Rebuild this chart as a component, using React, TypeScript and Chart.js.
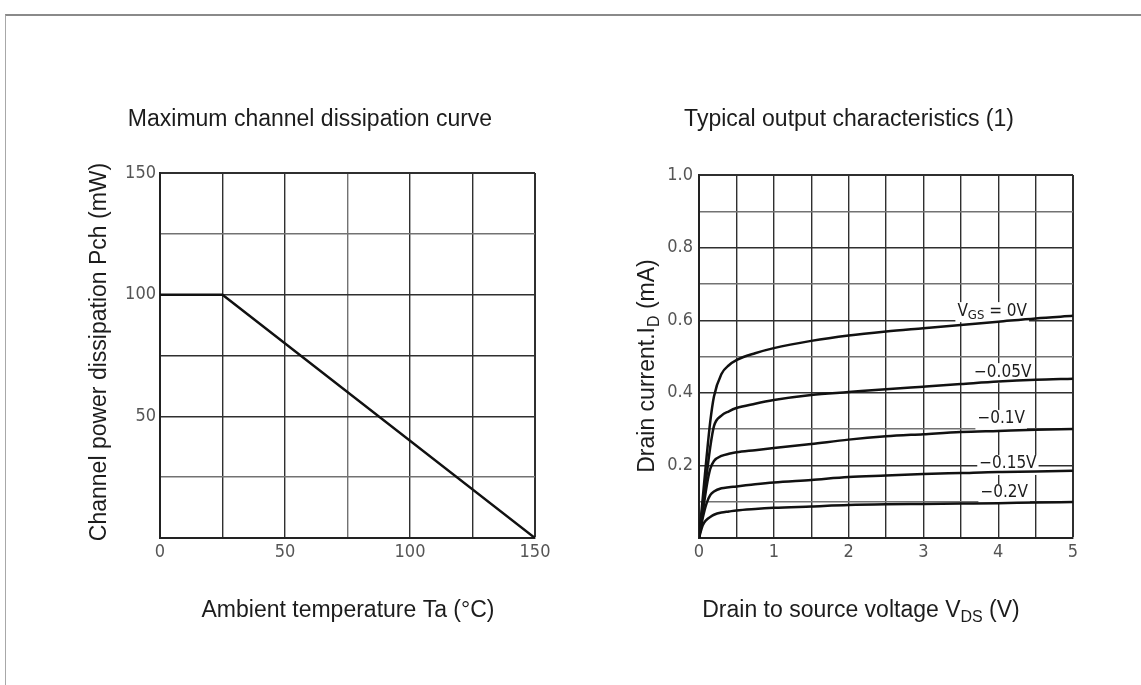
import React, { useEffect, useRef } from "react";
import { Chart, registerables } from "chart.js";

Chart.register(...registerables);

// ---- Maximum channel dissipation curve ----
const ambientTempC = [0, 25, 150];
const maxDissipationMw = [100, 100, 0];
const tempTickLabels = [0, 50, 100, 150];
const pchTickLabels = [50, 100, 150];

// ---- Typical output characteristics (1) ----
const drainVoltageV = [0, 0.05, 0.1, 0.15, 0.2, 0.3, 0.4, 0.5, 0.75, 1, 1.5, 2, 2.5, 3, 3.5, 4, 4.5, 5];
const idVgs0 = [0, 0.11, 0.22, 0.32, 0.39, 0.452, 0.476, 0.49, 0.509, 0.523, 0.543, 0.558, 0.569, 0.578, 0.587, 0.596, 0.605, 0.612];
const idVgsM005 = [0, 0.09, 0.17, 0.25, 0.308, 0.337, 0.349, 0.358, 0.37, 0.38, 0.394, 0.402, 0.41, 0.417, 0.424, 0.431, 0.436, 0.439];
const idVgsM01 = [0, 0.07, 0.14, 0.19, 0.212, 0.226, 0.232, 0.236, 0.242, 0.248, 0.259, 0.271, 0.28, 0.286, 0.292, 0.295, 0.298, 0.3];
const idVgsM015 = [0, 0.055, 0.095, 0.118, 0.128, 0.137, 0.14, 0.142, 0.148, 0.153, 0.16, 0.168, 0.172, 0.176, 0.179, 0.182, 0.183, 0.185];
const idVgsM02 = [0, 0.035, 0.05, 0.058, 0.064, 0.07, 0.073, 0.076, 0.08, 0.083, 0.087, 0.091, 0.093, 0.094, 0.095, 0.096, 0.098, 0.099];
const gateVoltageLabels = ["0V", "\u22120.05V", "\u22120.1V", "\u22120.15V", "\u22120.2V"];
const vdsTickLabels = [0, 1, 2, 3, 4, 5];
const idTickLabels = [0.2, 0.4, 0.6, 0.8, 1.0];

// where each gate-voltage caption sits, in data units (V, mA)
const gateLabelAnchors = [
  { x: 3.92, y: 0.625 },
  { x: 4.06, y: 0.457 },
  { x: 4.04, y: 0.328 },
  { x: 4.13, y: 0.204 },
  { x: 4.08, y: 0.124 },
];

const TITLE_FONT = "23px 'Liberation Sans', Arial, Helvetica, sans-serif";
const SUB_FONT = "16px 'Liberation Sans', Arial, Helvetica, sans-serif";
const TICK_FAMILY = "'Liberation Sans Narrow', 'DejaVu Sans Condensed', 'Liberation Sans', sans-serif";
const INK = "#1c1c1c";

type Seg = { t: string; sub?: boolean };

function drawRich(
  ctx: CanvasRenderingContext2D,
  segs: Seg[],
  cx: number,
  cy: number,
  rot: number,
  font: string,
  subFont: string,
  subShift: number,
  background?: boolean
) {
  ctx.save();
  ctx.translate(cx, cy);
  ctx.rotate(rot);
  ctx.textBaseline = "middle";
  ctx.textAlign = "left";
  const widths = segs.map((s) => {
    ctx.font = s.sub ? subFont : font;
    return ctx.measureText(s.t).width;
  });
  const total = widths.reduce((a, b) => a + b, 0);
  let x = -total / 2;
  if (background) {
    ctx.fillStyle = "#ffffff";
    ctx.fillRect(x - 2, -9, total + 4, 20);
  }
  ctx.fillStyle = INK;
  segs.forEach((s, i) => {
    ctx.font = s.sub ? subFont : font;
    ctx.fillText(s.t, x, s.sub ? subShift : 0);
    x += widths[i];
  });
  ctx.restore();
}

function nearIn(list: number[], v: number) {
  return list.some((l) => Math.abs(l - v) < 1e-6);
}

function gridStyle(major: (v: number) => boolean, maxV: number) {
  return {
    color: (c: any) => (major(c.tick.value) ? "#2f2f2f" : "#727272"),
    lineWidth: (c: any) => (Math.abs(c.tick.value - maxV) < 1e-6 ? 2 : 1.4),
    drawTicks: false,
  };
}

type TextSpec = {
  title: string;
  titleX: number;
  yTitle: Seg[];
  yTitleX: number;
  yTitleY: number;
  xTitle: Seg[];
  xTitleX: number;
};

function textPlugin(spec: TextSpec) {
  return {
    id: "panelText",
    afterDraw(chart: any) {
      const ctx = chart.ctx as CanvasRenderingContext2D;
      drawRich(ctx, [{ t: spec.title }], spec.titleX, 120, 0, TITLE_FONT, SUB_FONT, 7);
      drawRich(ctx, spec.yTitle, spec.yTitleX, spec.yTitleY, -Math.PI / 2, TITLE_FONT, SUB_FONT, 7);
      drawRich(ctx, spec.xTitle, spec.xTitleX, 611, 0, TITLE_FONT, SUB_FONT, 7);
    },
  };
}

const gateLabelPlugin = {
  id: "gateLabels",
  beforeDatasetsDraw(chart: any) {
    const ctx = chart.ctx as CanvasRenderingContext2D;
    const xs = chart.scales.x;
    const ys = chart.scales.y;
    const font = `17px ${TICK_FAMILY}`;
    const subFont = `13px ${TICK_FAMILY}`;
    gateVoltageLabels.forEach((lab, i) => {
      const a = gateLabelAnchors[i];
      const segs: Seg[] =
        i === 0 ? [{ t: "V" }, { t: "GS", sub: true }, { t: " = " + lab }] : [{ t: lab }];
      drawRich(ctx, segs, xs.getPixelForValue(a.x), ys.getPixelForValue(a.y), 0, font, subFont, 4, true);
    });
  },
};

function baseOptions(padTop: number, padRight: number) {
  return {
    responsive: false,
    animation: false as const,
    devicePixelRatio: 1,
    layout: { padding: { top: padTop, right: padRight, left: 0, bottom: 0 } },
    plugins: { legend: { display: false }, tooltip: { enabled: false }, title: { display: false } },
    elements: { point: { radius: 0 } },
  };
}

const tickFont = { family: TICK_FAMILY, size: 18 };

function DissipationChart() {
  const ref = useRef<HTMLCanvasElement | null>(null);
  useEffect(() => {
    if (!ref.current) return;
    const opts: any = baseOptions(173, 35);
    const chart = new Chart(ref.current, {
      type: "line",
      data: {
        datasets: [
          {
            data: ambientTempC.map((t, i) => ({ x: t, y: maxDissipationMw[i] })),
            borderColor: "#111",
            borderWidth: 2.5,
            tension: 0,
            pointRadius: 0,
          },
        ],
      },
      options: {
        ...opts,
        scales: {
          x: {
            type: "linear",
            min: 0,
            max: 150,
            afterFit: (s: any) => {
              s.height = 147;
            },
            grid: gridStyle((v) => v !== 75, 150),
            border: { display: true, color: "#222", width: 2 },
            ticks: {
              stepSize: 25,
              autoSkip: false,
              maxRotation: 0,
              padding: 4,
              color: "#555",
              font: tickFont,
              callback: (v: any) => (nearIn(tempTickLabels, Number(v)) ? String(v) : ""),
            },
          },
          y: {
            type: "linear",
            min: 0,
            max: 150,
            afterFit: (s: any) => {
              s.width = 160;
            },
            grid: gridStyle((v) => v !== 25 && v !== 125, 150),
            border: { display: true, color: "#222", width: 2 },
            ticks: {
              stepSize: 25,
              autoSkip: false,
              padding: 4,
              color: "#555",
              font: tickFont,
              callback: (v: any) => (nearIn(pchTickLabels, Number(v)) ? String(v) : ""),
            },
          },
        },
      },
      plugins: [
        textPlugin({
          title: "Maximum channel dissipation curve",
          titleX: 310,
          yTitle: [{ t: "Channel power dissipation Pch (mW)" }],
          yTitleX: 100,
          yTitleY: 352,
          xTitle: [{ t: "Ambient temperature Ta (\u00b0C)" }],
          xTitleX: 348,
        }),
      ],
    });
    return () => chart.destroy();
  }, []);
  return (
    <canvas
      ref={ref}
      width={570}
      height={685}
      style={{ position: "absolute", left: 0, top: 0, width: 570, height: 685 }}
    />
  );
}

function OutputChart() {
  const ref = useRef<HTMLCanvasElement | null>(null);
  useEffect(() => {
    if (!ref.current) return;
    const opts: any = baseOptions(175, 68);
    const series = [idVgs0, idVgsM005, idVgsM01, idVgsM015, idVgsM02];
    const chart = new Chart(ref.current, {
      type: "line",
      data: {
        datasets: series.map((s) => ({
          data: drainVoltageV.map((v, i) => ({ x: v, y: s[i] })),
          borderColor: "#111",
          borderWidth: 2.5,
          cubicInterpolationMode: "monotone" as const,
          pointRadius: 0,
        })),
      },
      options: {
        ...opts,
        scales: {
          x: {
            type: "linear",
            min: 0,
            max: 5,
            afterFit: (s: any) => {
              s.height = 147;
            },
            grid: gridStyle(() => true, 5),
            border: { display: true, color: "#222", width: 2 },
            ticks: {
              stepSize: 0.5,
              autoSkip: false,
              maxRotation: 0,
              padding: 4,
              color: "#555",
              font: tickFont,
              callback: (v: any) => (nearIn(vdsTickLabels, Number(v)) ? String(Math.round(Number(v))) : ""),
            },
          },
          y: {
            type: "linear",
            min: 0,
            max: 1,
            afterFit: (s: any) => {
              s.width = 129;
            },
            grid: gridStyle((v) => Math.round(v * 10) % 2 === 0, 1),
            border: { display: true, color: "#222", width: 2 },
            ticks: {
              stepSize: 0.1,
              autoSkip: false,
              padding: 6,
              color: "#555",
              font: tickFont,
              callback: (v: any) => (nearIn(idTickLabels, Number(v)) ? Number(v).toFixed(1) : ""),
            },
          },
        },
      },
      plugins: [
        gateLabelPlugin,
        textPlugin({
          title: "Typical output characteristics (1)",
          titleX: 279,
          yTitle: [{ t: "Drain current.I" }, { t: "D", sub: true }, { t: " (mA)" }],
          yTitleX: 78,
          yTitleY: 366,
          xTitle: [{ t: "Drain to source voltage V" }, { t: "DS", sub: true }, { t: " (V)" }],
          xTitleX: 291,
        }),
      ],
    });
    return () => chart.destroy();
  }, []);
  return (
    <canvas
      ref={ref}
      width={571}
      height={685}
      style={{ position: "absolute", left: 570, top: 0, width: 571, height: 685 }}
    />
  );
}

export default function App() {
  return (
    <div
      style={{
        position: "absolute",
        left: 0,
        top: 0,
        width: 1141,
        height: 685,
        background: "#ffffff",
        overflow: "hidden",
      }}
    >
      <div
        style={{
          position: "absolute",
          left: 5,
          top: 14,
          width: 1140,
          height: 680,
          borderTop: "2px solid #8a8a8a",
          borderLeft: "1px solid #a8a8a8",
        }}
      />
      <DissipationChart />
      <OutputChart />
    </div>
  );
}
